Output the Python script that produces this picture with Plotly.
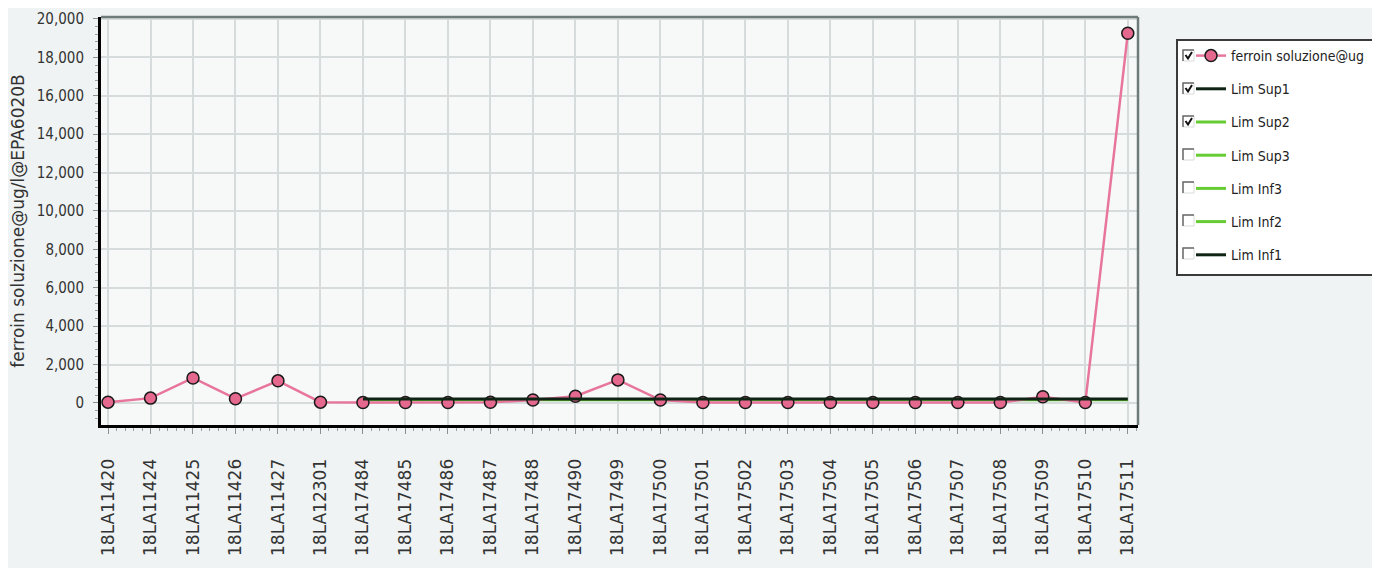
import plotly.graph_objects as go

# ---------------- data ----------------
samples = ["18LA11420", "18LA11424", "18LA11425", "18LA11426", "18LA11427",
           "18LA12301", "18LA17484", "18LA17485", "18LA17486", "18LA17487",
           "18LA17488", "18LA17490", "18LA17499", "18LA17500", "18LA17501",
           "18LA17502", "18LA17503", "18LA17504", "18LA17505", "18LA17506",
           "18LA17507", "18LA17508", "18LA17509", "18LA17510", "18LA17511"]
ferroin = [40, 250, 1300, 220, 1150, 40, 20, 20, 20, 30, 150, 350, 1200, 150,
           20, 20, 20, 20, 20, 20, 20, 20, 320, 20, 19250]
lim_sup1 = 210
lim_sup2 = 170
lim_start = "18LA17484"
y_title = "ferroin soluzione@ug/l@EPA6020B"
y_ticks = [0, 2000, 4000, 6000, 8000, 10000, 12000, 14000, 16000, 18000, 20000]
legend_checked = [True, True, True, False, False, False, False]

# ---------------- geometry (page pixels; page body has an 8px margin) ----------------
OFF = 8
W, H = 1380 - OFF, 568 - OFF
PL, PT, PR, PB = 101 - OFF, 17 - OFF, 1138 - OFF, 425 - OFF
PW, PH = PR - PL, PB - PT


def px(x):
    return (x - OFF - PL) / PW


def py(y):
    return (PB - (y - OFF)) / PH


idx = list(range(len(samples)))
start = samples.index(lim_start)
lim_x = idx[start:]

DARK = "#0f2414"
GREEN = "#66cc33"
PINK = "#e8769c"

fig = go.Figure()

fig.add_trace(go.Scatter(
    x=lim_x, y=[lim_sup2] * len(lim_x), mode="lines", name="Lim Sup2",
    line=dict(color=GREEN, width=3), legendgroup="g3", legendrank=3,
    hoverinfo="skip"))
fig.add_trace(go.Scatter(
    x=idx, y=ferroin, mode="lines+markers", name="ferroin soluzione@ug",
    line=dict(color=PINK, width=2.5),
    marker=dict(size=12, color="#e5688e", line=dict(color="#1a1a1a", width=1.5)),
    legendgroup="g1", legendrank=1))
fig.add_trace(go.Scatter(
    x=lim_x, y=[lim_sup1] * len(lim_x), mode="lines", name="Lim Sup1",
    line=dict(color=DARK, width=3), legendgroup="g2", legendrank=2,
    hoverinfo="skip"))
for i, (nm, col) in enumerate([("Lim Sup3", GREEN), ("Lim Inf3", GREEN),
                               ("Lim Inf2", GREEN), ("Lim Inf1", DARK)]):
    fig.add_trace(go.Scatter(
        x=[None], y=[None], mode="lines", name=nm,
        line=dict(color=col, width=3), legendgroup="g%d" % (i + 4),
        legendrank=i + 4))

shapes = []
# legend box (drawn as a shape so that the checkboxes can sit on top of it)
shapes.append(dict(type="rect", xref="paper", yref="paper",
                   x0=px(1177), x1=px(1420), y0=py(275), y1=py(40),
                   line=dict(color="#3a3a3a", width=2), fillcolor="white",
                   layer="above"))
# checkboxes
rows = [56, 89, 122, 155, 188, 221, 254]
for c, chk in zip(rows, legend_checked):
    x0, x1 = 1183, 1194
    y0, y1 = c - 6, c + 5
    shapes.append(dict(type="rect", xref="paper", yref="paper",
                       x0=px(x0), x1=px(x1), y0=py(y1), y1=py(y0),
                       line=dict(color="#d8dcdc", width=1), fillcolor="white",
                       layer="above"))
    shapes.append(dict(type="path", xref="paper", yref="paper",
                       path="M %f %f L %f %f L %f %f" % (px(x0), py(y1), px(x0), py(y0), px(x1), py(y0)),
                       line=dict(color="#6a6a6a", width=1.5), layer="above"))
    if chk:
        shapes.append(dict(type="path", xref="paper", yref="paper",
                           path="M %f %f L %f %f L %f %f" % (px(x0 + 2.5), py(c - 1),
                                                             px(x0 + 5), py(c + 2.5),
                                                             px(x0 + 9), py(c - 4)),
                           line=dict(color="#111111", width=2), layer="above"))

# plot frame: top/right grey, left/bottom black (axes)
shapes.append(dict(type="line", xref="paper", yref="paper", x0=0, x1=1, y0=1, y1=1,
                   line=dict(color="#6f7b7b", width=2.5)))
shapes.append(dict(type="line", xref="paper", yref="paper", x0=1, x1=1, y0=0, y1=1,
                   line=dict(color="#6f7b7b", width=2.5)))

fig.update_layout(
    width=W, height=H,
    margin=dict(l=PL, r=W - PR, t=PT, b=H - PB, autoexpand=False),
    paper_bgcolor="#eff3f3",
    plot_bgcolor="#f7f9f9",
    showlegend=True,
    legend=dict(
        x=px(1177), y=py(40), xanchor="left", yanchor="top",
        bgcolor="rgba(0,0,0,0)", borderwidth=0,
        font=dict(family="Liberation Sans Narrow, DejaVu Sans Condensed, sans-serif",
                  size=14, color="#222222"),
        traceorder="grouped", tracegroupgap=12, indentation=14,
    ),
    shapes=shapes,
    xaxis=dict(
        range=[-0.165, 24.24], tickmode="array", tickvals=idx, ticktext=samples,
        tickangle=-90, showgrid=True, gridcolor="#d6dbdb", gridwidth=1.5,
        showline=True, linecolor="#000000", linewidth=3,
        ticks="outside", ticklen=6, tickcolor="#8a9090", tickwidth=1,
        ticklabelstandoff=18, zeroline=False,
        tickfont=dict(family="DejaVu Sans, sans-serif", size=17, color="#333333"),
        minor=dict(dtick=0.2, ticks="outside", ticklen=3, tickcolor="#9aa0a0",
                   showgrid=False),
    ),
    yaxis=dict(
        range=[-1150, 20100], tickmode="array", tickvals=y_ticks,
        tickformat=",d", showgrid=True, gridcolor="#d6dbdb", gridwidth=1.5,
        showline=True, linecolor="#000000", linewidth=3, zeroline=False,
        ticks="outside", ticklen=5, tickcolor="#8a9090", ticklabelstandoff=6,
        tickfont=dict(family="DejaVu Sans Condensed, sans-serif", size=15, color="#333333"),
        minor=dict(dtick=400, ticks="outside", ticklen=3, tickcolor="#9aa0a0",
                   showgrid=False),
        title=dict(text=y_title, standoff=12,
                   font=dict(family="DejaVu Sans, sans-serif", size=17, color="#333333")),
        automargin=True,
    ),
)

fig.write_html("out.html")
